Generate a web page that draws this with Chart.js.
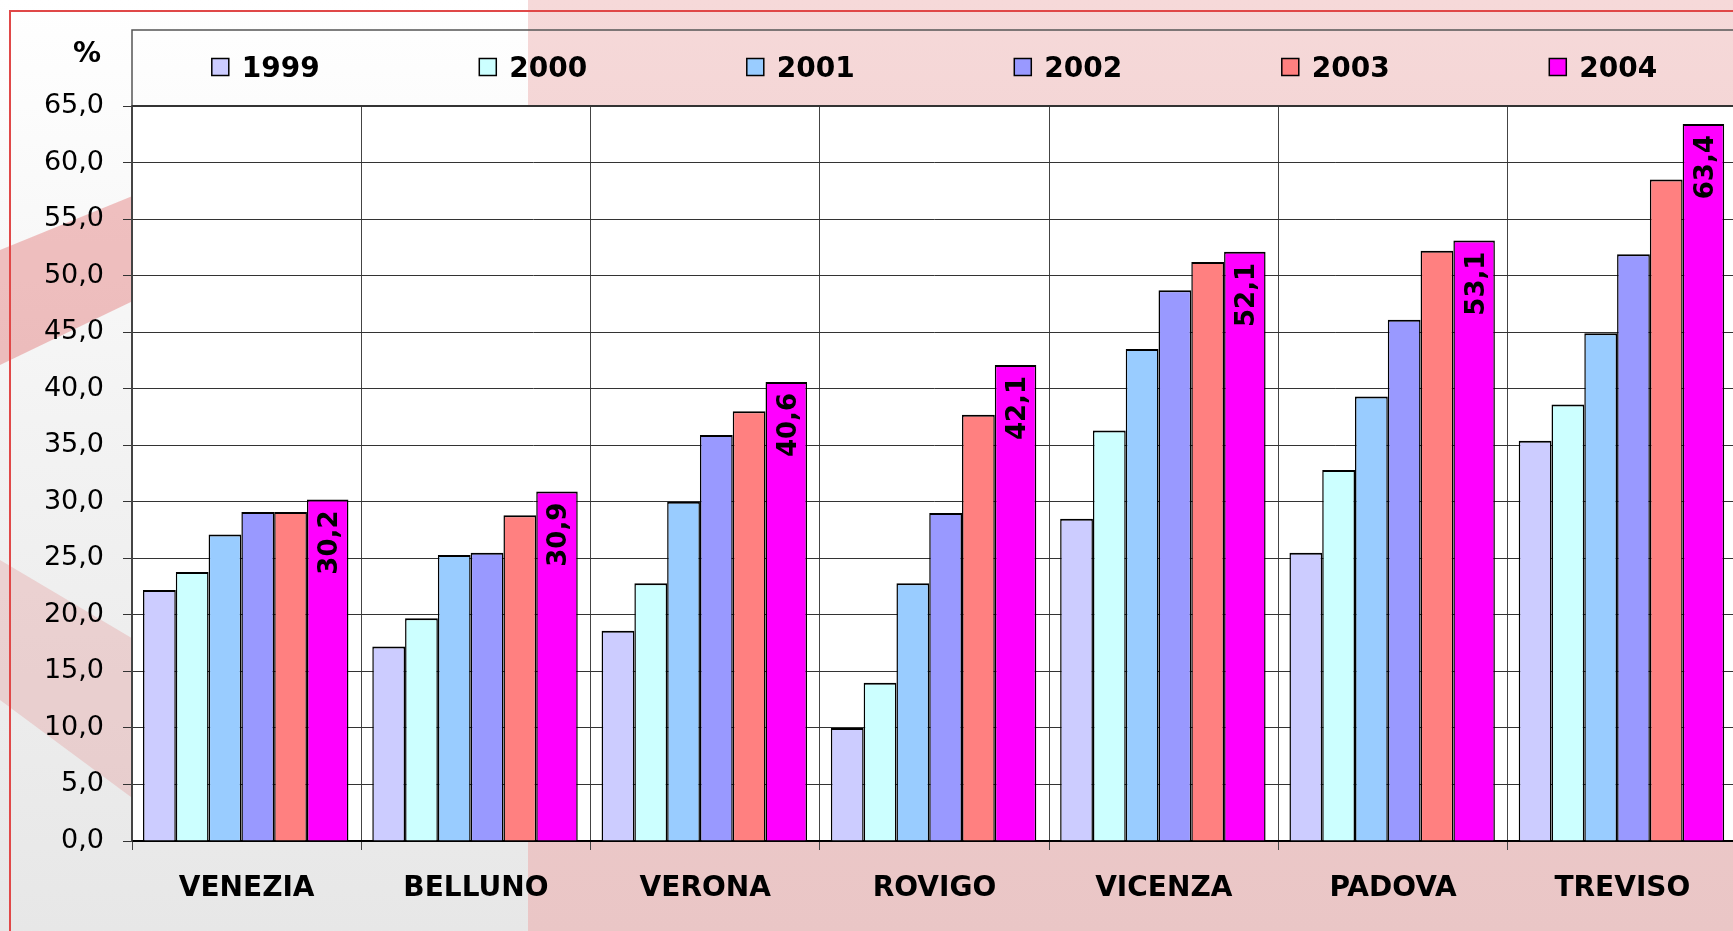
<!DOCTYPE html>
<html>
<head>
<meta charset="utf-8">
<script src="https://cdn.jsdelivr.net/npm/chart.js@4.4.1/dist/chart.umd.min.js"></script>
<style>
  html, body { margin: 0; padding: 0; }
  body {
    position: relative;
    width: 1733px;
    height: 931px;
    overflow: hidden;
    background: #ffffff;
  }
  .backdrop {
    position: absolute;
    left: 0;
    top: 0;
  }
  .chart {
    position: absolute;
    left: 0;
    top: 0;
    width: 1740px;
    height: 931px;
  }
</style>
</head>
<body>
<svg class="backdrop" width="1733" height="931" xmlns="http://www.w3.org/2000/svg">
  <defs>
    <linearGradient id="leftFill" x1="0" y1="0" x2="0" y2="1">
      <stop offset="0" stop-color="#ffffff"/>
      <stop offset="0.45" stop-color="#f3f3f3"/>
      <stop offset="1" stop-color="#e7e7e7"/>
    </linearGradient>
    <linearGradient id="rightFill" x1="0" y1="0" x2="0" y2="1">
      <stop offset="0" stop-color="#f6d9d9"/>
      <stop offset="0.5" stop-color="#efcdcd"/>
      <stop offset="1" stop-color="#eac6c6"/>
    </linearGradient>
  </defs>
  <rect x="0" y="0" width="528" height="931" fill="url(#leftFill)"/>
  <rect x="528" y="0" width="1205" height="931" fill="url(#rightFill)"/>
  <polygon points="0,250 135,195 135,300 0,365" fill="rgba(226,120,120,0.45)"/>
  <polygon points="0,560 135,640 135,800 0,700" fill="rgba(226,140,140,0.3)"/>
  <path d="M 10 931 L 10 11 L 1733 11" fill="none" stroke="#e04848" stroke-width="2"/>
</svg>
<div class="chart"><canvas id="barChart"></canvas></div>
<script>
const categories = ["VENEZIA", "BELLUNO", "VERONA", "ROVIGO", "VICENZA", "PADOVA", "TREVISO"];
const years = ["1999", "2000", "2001", "2002", "2003", "2004"];

const values1999 = [22.2, 17.2, 18.6, 10.0, 28.5, 25.5, 35.4];
const values2000 = [23.8, 19.7, 22.8, 14.0, 36.3, 32.8, 38.6];
const values2001 = [27.1, 25.3, 30.0, 22.8, 43.5, 39.3, 44.9];
const values2002 = [29.1, 25.5, 35.9, 29.0, 48.7, 46.1, 51.9];
const values2003 = [29.1, 28.8, 38.0, 37.7, 51.2, 52.2, 58.5];
const values2004 = [30.2, 30.9, 40.6, 42.1, 52.1, 53.1, 63.4];

const yMax = 65;
const yStep = 5;

const series = [values1999, values2000, values2001, values2002, values2003, values2004];
const barColors = ["#ccccff", "#ccffff", "#99ccff", "#9999ff", "#ff8080", "#ff00ff"];

Chart.defaults.font.family = "'DejaVu Sans', sans-serif";
Chart.defaults.color = "#000";

const formatValue = (v) => v.toFixed(1).replace(".", ",");

// bar placement inside one category, in fractions of the category width.
// the last year is wider than the others, like in the original.
const groupStart = 0.048;
const slotWidth = 0.143;
const lastWidth = 0.181;

const barLayout = (i) => {
  const n = years.length;
  const width = i === n - 1 ? lastWidth : slotWidth;
  const center = groupStart + i * slotWidth + width / 2 - 0.5;
  // Chart.js puts bar i at (i - (n - 1) / 2) * chunk from the category centre
  const chunk = center / (i - (n - 1) / 2);
  return { categoryPercentage: chunk * n, barPercentage: width / chunk };
};

const datasets = years.map((year, i) => ({
  label: year,
  data: series[i],
  backgroundColor: barColors[i],
  borderColor: "#000",
  borderWidth: { top: 2, left: 1.5, right: 1.5, bottom: 0 },
  ...barLayout(i),
}));

const chartDecor = {
  id: "chartDecor",
  beforeDraw(chart) {
    const { ctx, chartArea } = chart;
    ctx.save();
    ctx.fillStyle = "#ffffff";
    ctx.fillRect(chartArea.left, chartArea.top, chartArea.right - chartArea.left, chartArea.bottom - chartArea.top);
    ctx.restore();
  },
  afterDraw(chart) {
    const { ctx, chartArea } = chart;
    const legendTop = 30;
    ctx.save();

    // legend frame above the plot
    ctx.strokeStyle = "#555";
    ctx.lineWidth = 1.5;
    ctx.beginPath();
    ctx.moveTo(chartArea.left, chartArea.top);
    ctx.lineTo(chartArea.left, legendTop);
    ctx.lineTo(chartArea.right, legendTop);
    ctx.stroke();

    ctx.strokeStyle = "#333";
    ctx.lineWidth = 2;
    ctx.beginPath();
    ctx.moveTo(chartArea.left, chartArea.top);
    ctx.lineTo(chartArea.right, chartArea.top);
    ctx.stroke();

    // legend items, one per equal slot
    ctx.font = "bold 28px 'DejaVu Sans'";
    ctx.textBaseline = "alphabetic";
    const slot = (chartArea.right - chartArea.left) / years.length;
    years.forEach((year, i) => {
      const itemWidth = 30 + ctx.measureText(year).width;
      const x = chartArea.left + i * slot + (slot - itemWidth) / 2;
      ctx.fillStyle = barColors[i];
      ctx.fillRect(x, 58.5, 17, 17);
      ctx.strokeStyle = "#000";
      ctx.lineWidth = 1.5;
      ctx.strokeRect(x, 58.5, 17, 17);
      ctx.fillStyle = "#000";
      ctx.textAlign = "left";
      ctx.fillText(year, x + 30, 77);
    });

    ctx.textAlign = "right";
    ctx.fillText("%", 101, 62);

    // value labels on the 2004 bars
    const meta = chart.getDatasetMeta(years.length - 1);
    ctx.font = "bold 26px 'DejaVu Sans'";
    meta.data.forEach((bar, j) => {
      ctx.save();
      ctx.translate(bar.x + 9.5, bar.y + 11);
      ctx.rotate(-Math.PI / 2);
      ctx.textAlign = "right";
      ctx.fillText(formatValue(values2004[j]), 0, 0);
      ctx.restore();
    });

    ctx.restore();
  },
};

new Chart(document.getElementById("barChart"), {
  type: "bar",
  data: {
    labels: categories,
    datasets: datasets,
  },
  options: {
    responsive: true,
    maintainAspectRatio: false,
    animation: false,
    layout: { padding: { top: 106, right: 3, bottom: 0, left: 0 } },
    plugins: {
      legend: { display: false },
      tooltip: { enabled: false },
    },
    scales: {
      x: {
        afterFit: (scale) => {
          scale.height = 90;
        },
        grid: { color: "#444", lineWidth: 1, tickLength: 9, offset: true },
        border: { color: "#000", width: 2 },
        ticks: { color: "#000", font: { size: 28, weight: "bold" }, padding: 22 },
      },
      y: {
        min: 0,
        max: yMax,
        afterFit: (scale) => {
          scale.width = 132;
        },
        grid: { color: "#333", lineWidth: 1, tickLength: 9 },
        border: { color: "#444", width: 1.5 },
        ticks: {
          stepSize: yStep,
          color: "#000",
          font: { size: 27 },
          padding: 19,
          callback: (v) => formatValue(v),
        },
      },
    },
  },
  plugins: [chartDecor],
});
</script>
</body>
</html>
